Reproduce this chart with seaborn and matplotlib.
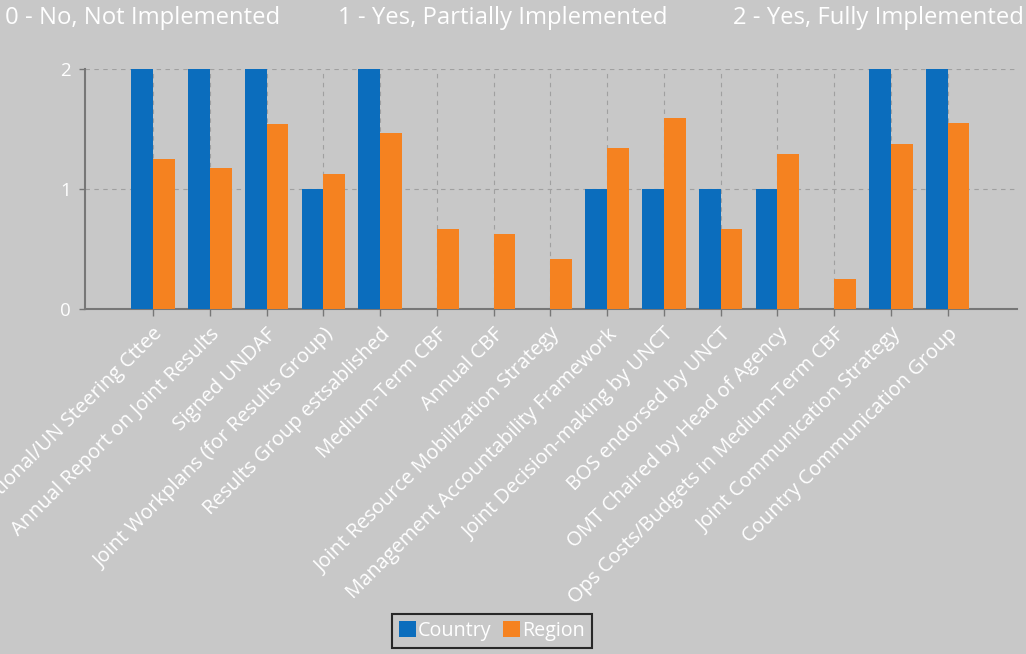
import matplotlib
matplotlib.use("Agg")
import matplotlib.pyplot as plt
import seaborn as sns
import pandas as pd
from matplotlib.patches import Patch

categories = [
    "Joint National/UN Steering Cttee",
    "Annual Report on Joint Results",
    "Signed UNDAF",
    "Joint Workplans (for Results Group)",
    "Results Group estsablished",
    "Medium-Term CBF",
    "Annual CBF",
    "Joint Resource Mobilization Strategy",
    "Management Accountability Framework",
    "Joint Decision-making by UNCT",
    "BOS endorsed by UNCT",
    "OMT Chaired by Head of Agency",
    "Ops Costs/Budgets in Medium-Term CBF",
    "Joint Communication Strategy",
    "Country Communication Group",
]
country = [2, 2, 2, 1, 2, 0, 0, 0, 1, 1, 1, 1, 0, 2, 2]
region = [1.25, 1.17, 1.54, 1.125, 1.46, 0.667, 0.625, 0.417, 1.335, 1.59,
          0.667, 1.29, 0.25, 1.375, 1.55]
series_names = ["Country", "Region"]
header_texts = ["0 - No, Not Implemented", "1 - Yes, Partially Implemented",
                "2 - Yes, Fully Implemented"]
y_ticks = [0, 1, 2]

BG = "#c8c8c8"
BLUE = "#0b6dbd"
ORANGE = "#f58220"
GRID = "#a0a0a0"

sns.set_style("white", {"axes.facecolor": BG, "figure.facecolor": BG})
plt.rcParams["font.family"] = ["Open Sans", "DejaVu Sans"]

df = pd.DataFrame({
    "category": categories * 2,
    "series": [series_names[0]] * len(categories) + [series_names[1]] * len(categories),
    "value": country + region,
})

fig = plt.figure(figsize=(10.26, 6.54), dpi=100)
fig.patch.set_facecolor(BG)
ax = fig.add_axes([85 / 1026, 1 - 309 / 654, (1017 - 85) / 1026, (309 - 68.5) / 654])
ax.set_facecolor(BG)

sns.barplot(data=df, x="category", y="value", hue="series",
            palette=[BLUE, ORANGE], saturation=1, width=0.765,
            order=categories, hue_order=series_names, ax=ax, legend=False,
            linewidth=0, zorder=3)

ax.set_xlim(-1.2, len(categories) - 1 + 1.22)
ax.set_ylim(0, 2)
ax.set_yticks(y_ticks)
ax.set_xlabel("")
ax.set_ylabel("")

ax.grid(True, axis="both", color=GRID, linestyle=(0, (4, 4)), linewidth=0.8, zorder=0)
ax.set_axisbelow(True)

for s in ["top", "right"]:
    ax.spines[s].set_visible(False)
ax.spines["left"].set_color("#777777")
ax.spines["left"].set_linewidth(1.5)
ax.spines["bottom"].set_color("#777777")
ax.spines["bottom"].set_linewidth(1.5)

ax.tick_params(axis="y", colors="#777777", labelcolor="white", labelsize=13.5,
               length=4, width=1, direction="out", pad=6, left=True)
ax.tick_params(axis="x", colors="#777777", labelcolor="white", labelsize=14.5,
               length=5, width=1, direction="out", pad=6, bottom=True)
ax.set_xticks(range(len(categories)))
ax.set_xticklabels(categories, rotation=45, ha="right", rotation_mode="anchor")

# Header texts
hx = [5, 338, 733]
for t, x in zip(header_texts, hx):
    fig.text(x / 1026, 1 - 18 / 654, t, color="white", fontsize=17.2,
             ha="left", va="center")

handles = [Patch(facecolor=BLUE, edgecolor="none"), Patch(facecolor=ORANGE, edgecolor="none")]
leg = fig.legend(handles, series_names, loc="center", bbox_to_anchor=(492 / 1026, 1 - 631 / 654),
                 ncol=2, frameon=True, fancybox=False, fontsize=14.2,
                 handlelength=0.85, handleheight=0.85, handletextpad=0.12,
                 columnspacing=0.6, borderpad=0.35, labelcolor="white")
leg.get_frame().set_edgecolor("black")
leg.get_frame().set_linewidth(1.5)
leg.get_frame().set_facecolor(BG)

fig.savefig("out.png", dpi=100, facecolor=BG)
